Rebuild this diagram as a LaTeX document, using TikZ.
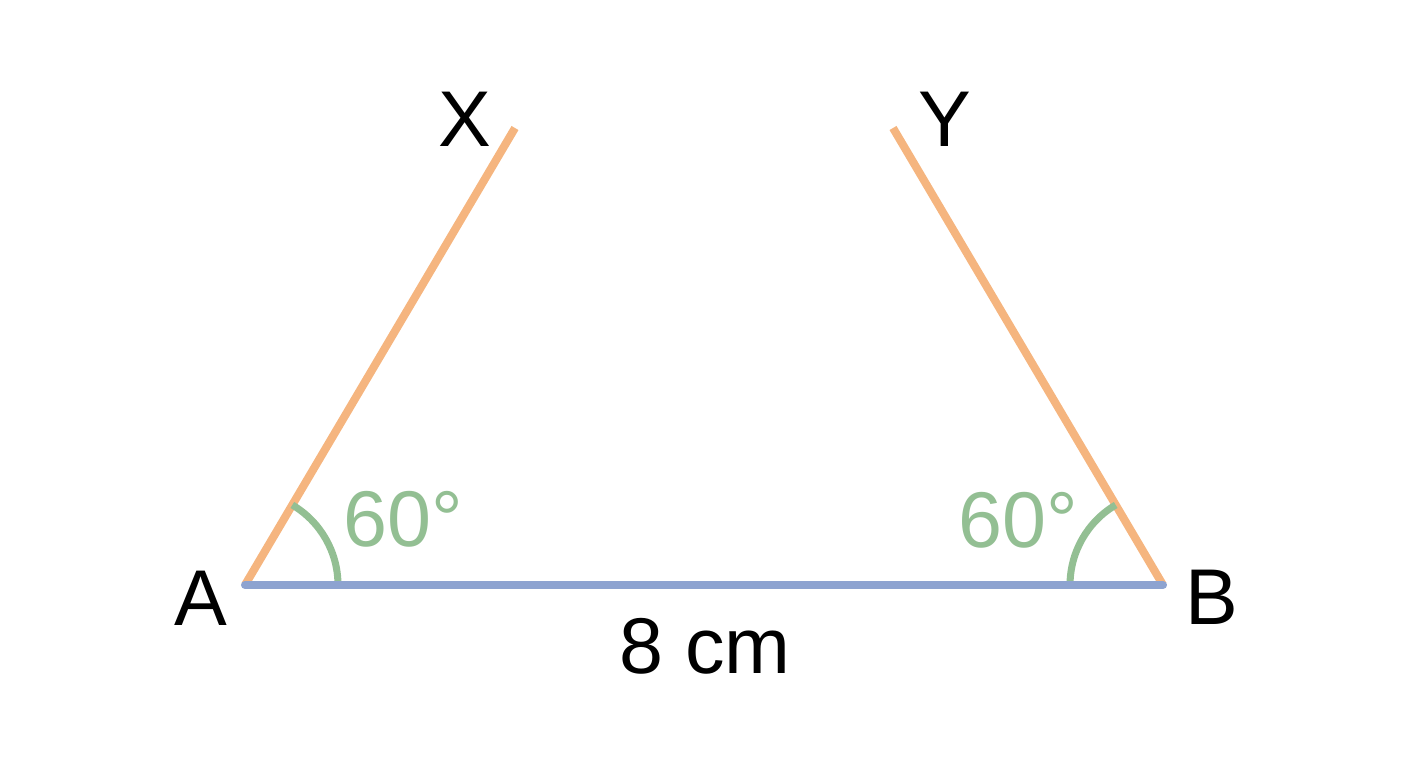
\documentclass[tikz,border=0pt]{standalone}
\usepackage{fontspec}
\setmainfont{Liberation Sans}
\usepackage{tikz}

\definecolor{sideorange}{HTML}{F5B57F}
\definecolor{baseblue}{HTML}{8DA3D0}
\definecolor{anglegreen}{HTML}{93BF93}

\begin{document}
\begin{tikzpicture}[x=0.02cm, y=0.02cm]
    \tikzstyle{lbl} = [inner sep=0pt, font=\fontsize{45}{54}\selectfont, text=black]
    \tikzstyle{anglelbl} = [lbl, text=anglegreen]
    \tikzstyle{side} = [line width=4.6pt, sideorange]
    \tikzstyle{base} = [line width=4.6pt, baseblue, line cap=round]
    \tikzstyle{anglearc} = [line width=4pt, anglegreen]
    \useasboundingbox (0,0) rectangle (1408,768);
    \coordinate (A) at (245,183);
    \coordinate (B) at (1163,183);
    \coordinate (X) at (515,640);
    \coordinate (Y) at (893,640);
    \node (labA) [lbl] at (201,170) {A};
    \node (labB) [lbl] at (1212,171) {B};
    \node (labX) [lbl] at (465,649) {X};
    \node (labY) [lbl] at (945,649) {Y};
    \node (len) [lbl] at (705,122) {8 cm};
    \node (angA) [anglelbl] at (403,249) {60°};
    \node (angB) [anglelbl] at (1018,248) {60°};

    \draw [side] (A) -- (X);
    \draw [side] (B) -- (Y);
    \draw [anglearc] ([shift={(0:1.86cm)}]A) arc[start angle=0, end angle=59.4, radius=1.86cm];
    \draw [anglearc] ([shift={(180:1.86cm)}]B) arc[start angle=180, end angle=120.6, radius=1.86cm];
    \draw [base] (A) -- (B);
\end{tikzpicture}
\end{document}
